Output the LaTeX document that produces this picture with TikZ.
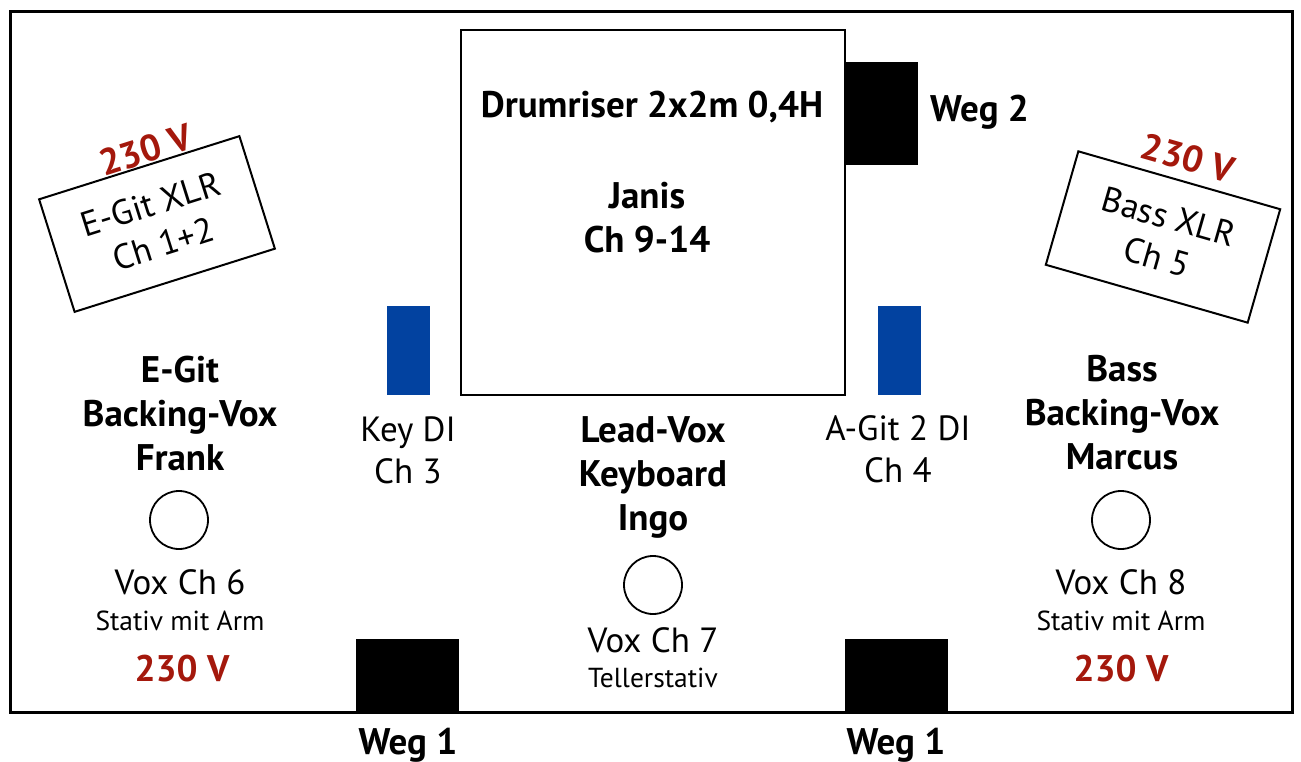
\documentclass[tikz,border=0pt]{standalone}
\usepackage{fontspec}
\setmainfont{PT Sans}
\begin{document}
\begin{tikzpicture}[x=1pt,y=-1pt,
  frame/.style={draw=black,line width=3pt},
  box/.style={draw=black,line width=2pt,fill=white},
  blk/.style={fill=black},
  di/.style={fill=diblue},
  mic/.style={draw=black,line width=1.8pt,circle,minimum size=58pt,inner sep=0pt},
  bl/.style={font=\fontsize{37}{44}\selectfont\bfseries,align=center,inner sep=0pt},
  rl/.style={font=\fontsize{35}{42}\selectfont,align=center,inner sep=0pt},
  sl/.style={font=\fontsize{27.5}{30}\selectfont,inner sep=0pt},
  volt/.style={font=\fontsize{37}{40}\selectfont\bfseries,text=voltred,inner sep=0pt},
  xlr/.style={draw=black,line width=2pt,minimum width=210pt,minimum height=118pt,align=center,font=\fontsize{35}{42}\selectfont,inner sep=0pt}
]
\definecolor{diblue}{RGB}{2,66,160}
\definecolor{voltred}{RGB}{164,24,12}
\useasboundingbox (0,0) rectangle (1301,762);
\fill[white] (0,0) rectangle (1301,762);
% stage frame
\draw[frame] (10,12) rectangle (1292,712);
% drum riser
\draw[box] (461,30) rectangle (845,395);
\node[bl] (riser) at (652,107) {Drumriser 2x2m 0,4H};
\node[bl] (janis) at (647,218) {Janis\\Ch 9-14};
% monitors
\fill[blk] (845,62) rectangle (918,165);
\node[bl,anchor=west] (weg2) at (930,112) {Weg 2};
\fill[blk] (356,639) rectangle (459,712);
\fill[blk] (845,639) rectangle (948,712);
\node[bl] (weg1a) at (408,745) {Weg 1};
\node[bl] (weg1b) at (896,745) {Weg 1};
% DI boxes
\fill[di] (387,306) rectangle (430,395);
\fill[di] (878,306) rectangle (921,395);
\node[rl] (keydi) at (408,450) {Key DI\\Ch 3};
\node[rl] (agitdi) at (898,449) {A-Git 2 DI\\Ch 4};
% XLR boxes
\node[xlr,rotate=17.5] (egitxlr) at (157,224) {E-Git XLR\\Ch 1+2};
\node[volt,rotate=17.5] (v1) at (146,150) {230 V};
\node[xlr,rotate=-16] (bassxlr) at (1163,237) {Bass XLR\\Ch 5};
\node[volt,rotate=-16] (v2) at (1188,158) {230 V};
% players
\node[bl] (frank) at (180,413) {E-Git\\Backing-Vox\\Frank};
\node[bl] (ingo) at (653,477) {Lead-Vox\\Keyboard\\Ingo};
\node[bl] (marcus) at (1122,413) {Bass\\Backing-Vox\\Marcus};
% mics
\node[mic] (m6) at (179,520) {};
\node[mic] (m7) at (653,585) {};
\node[mic] (m8) at (1121,520) {};
\node[rl] (vox6) at (180,582) {Vox Ch 6};
\node[sl] (st6) at (180,621) {Stativ mit Arm};
\node[volt] (v3) at (182,669) {230 V};
\node[rl] (vox7) at (653,640) {Vox Ch 7};
\node[sl] (st7) at (653,678) {Tellerstativ};
\node[rl] (vox8) at (1121,582) {Vox Ch 8};
\node[sl] (st8) at (1121,621) {Stativ mit Arm};
\node[volt] (v4) at (1121,669) {230 V};
\end{tikzpicture}
\end{document}
